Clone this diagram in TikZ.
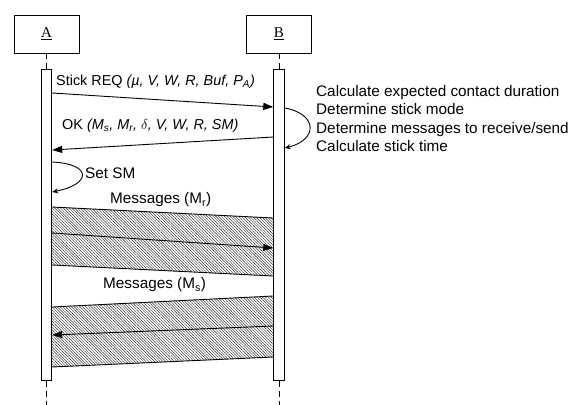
\documentclass[tikz,border=0pt]{standalone}
\usepackage{fontspec}
\setmainfont{Liberation Sans}
\newfontfamily\boxfont{Liberation Serif}
\usetikzlibrary{arrows.meta, positioning, calc, patterns.meta}

\begin{document}
\begin{tikzpicture}[
    x=1pt, y=-1pt,
    font=\fontsize{15.3}{18.5}\selectfont,
    % Define styles
    actor/.style={
        rectangle,
        draw=black,
        line width=0.9pt,
        minimum width=65pt,
        minimum height=38pt,
        font=\boxfont\fontsize{15}{18}\selectfont
    },
    lifebar/.style={
        rectangle,
        draw=black,
        fill=white,
        line width=0.9pt,
        minimum width=10.5pt,
        minimum height=311pt,
        inner sep=0pt
    },
    lifeline/.style={
        draw,
        dash pattern=on 6pt off 4pt,
        line width=0.9pt
    },
    msg/.style={
        draw,
        -{Triangle[length=10pt, width=7pt]},
        line width=0.9pt
    },
    selfmsg/.style={
        draw,
        -{Stealth[length=6pt, width=5pt]},
        line width=0.9pt
    },
    hatch/.style={
        pattern={Lines[angle=-45, distance=2pt, line width=0.45pt]},
        pattern color=black!80
    },
    msgtext/.style={
        inner sep=0pt,
        anchor=west
    },
    paramtext/.style={
        msgtext,
        font=\fontsize{14.4}{18}\selectfont
    }
]
\useasboundingbox (0,0) rectangle (574,405);

% Place nodes
% Actors and their activation bars
\node[actor] (a) at (46.5,34) {\underline{A}};
\node[actor] (b) at (279,34) {\underline{B}};
\node[lifebar, below=16pt of a] (abar) {};
\node[lifebar, below=16pt of b] (bbar) {};
\coordinate (aend) at (abar.south |- 0,405);
\coordinate (bend) at (bbar.south |- 0,405);

% Message end points on the bars
\coordinate (req-a) at (abar.east |- 0,93);
\coordinate (req-b) at (bbar.west |- 0,107);
\coordinate (ok-b) at (bbar.west |- 0,137);
\coordinate (ok-a) at (abar.east |- 0,150);
\coordinate (calc-s) at (bbar.east |- 0,108);
\coordinate (calc-e) at (bbar.east |- 0,148);
\coordinate (sm-s) at (abar.east |- 0,162);
\coordinate (sm-e) at (abar.east |- 0,192);

% Hatched blocks: Mr (A to B), Ms (B to A)
\coordinate (mr-a1) at (abar.east |- 0,207);
\coordinate (mr-b1) at (bbar.west |- 0,218);
\coordinate (mr-b2) at (bbar.west |- 0,276);
\coordinate (mr-a2) at (abar.east |- 0,265);
\coordinate (mr-a) at (abar.east |- 0,233);
\coordinate (mr-b) at (bbar.west |- 0,248);
\coordinate (ms-a1) at (abar.east |- 0,307);
\coordinate (ms-b1) at (bbar.west |- 0,296);
\coordinate (ms-b2) at (bbar.west |- 0,357);
\coordinate (ms-a2) at (abar.east |- 0,367);
\coordinate (ms-b) at (bbar.west |- 0,326);
\coordinate (ms-a) at (abar.east |- 0,335);

% Labels
\node[paramtext] (reqtext) at (56,82) {Stick REQ \textit{(\textmu, V, W, R, Buf, P\textsubscript{A})}};
\node[paramtext] (oktext) at (62,126) {OK \textit{(M\textsubscript{s}, M\textsubscript{r}, $\delta$, V, W, R, SM)}};
\node[msgtext, anchor=north west, align=left] (calctext) at (316,85)
    {Calculate expected contact duration\\Determine stick mode\\Determine messages to receive/send\\Calculate stick time};
\node[msgtext] (smtext) at (85,173) {Set SM};
\node[msgtext] (mrtext) at (110,200) {Messages (M\textsubscript{r})};
\node[msgtext] (mstext) at (103,285) {Messages (M\textsubscript{s})};

% Draw edges
% Lifelines
\path[lifeline] (a) -- (abar);
\path[lifeline] (b) -- (bbar);
\path[lifeline] (abar) -- (aend);
\path[lifeline] (bbar) -- (bend);

% Hatched blocks
\fill[hatch] (mr-a1) -- (mr-b1) -- (mr-b2) -- (mr-a2) -- cycle;
\fill[hatch] (ms-a1) -- (ms-b1) -- (ms-b2) -- (ms-a2) -- cycle;
\draw[line width=0.9pt] (mr-a1) -- (mr-b1) (mr-a2) -- (mr-b2);
\draw[line width=0.9pt] (ms-a1) -- (ms-b1) (ms-a2) -- (ms-b2);

% Messages
\path[msg] (req-a) -- (req-b);
\path[msg] (ok-b) -- (ok-a);
\path[msg] (mr-a) -- (mr-b);
\path[msg] (ms-b) -- (ms-a);

% Self messages
\path[selfmsg] (calc-s) .. controls (318,114) and (318,140) .. (calc-e);
\path[selfmsg] (sm-s) .. controls (92,164) and (92,184) .. (sm-e);

\end{tikzpicture}
\end{document}
